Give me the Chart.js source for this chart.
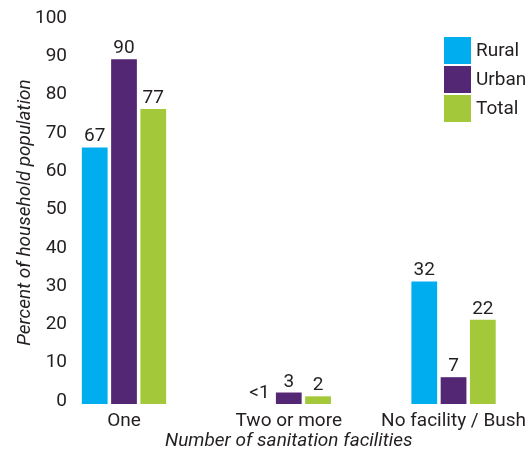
<!DOCTYPE html>
<html>
<head>
<meta charset="utf-8">
<script src="https://cdn.jsdelivr.net/npm/chart.js@4"></script>
<style>
  body { margin: 0; background: #fff; }
  #wrap { width: 532px; height: 453px; }
</style>
</head>
<body>
<div id="wrap"><canvas id="grafica"></canvas></div>
<script>
const categories = ["One", "Two or more", "No facility / Bush"];
const seriesNames = ["Rural", "Urban", "Total"];
const rural = [67, 0, 32];
const urban = [90, 3, 7];
const total = [77, 2, 22];
// texts written above the bars
const ruralLabels = ["67", "<1", "32"];
const urbanLabels = ["90", "3", "7"];
const totalLabels = ["77", "2", "22"];

const colors = ["#00aeef", "#532773", "#a3c83a"];
const textColor = "#231f20";
const fontFamily = "Roboto, sans-serif";
const fontSize = 19;

Chart.defaults.font.family = fontFamily;
Chart.defaults.color = textColor;

const valueLabels = [ruralLabels, urbanLabels, totalLabels];

// numbers on top of each bar
const barValues = {
  id: "barValues",
  afterDatasetsDraw(chart) {
    const ctx = chart.ctx;
    ctx.save();
    ctx.font = fontSize + "px " + fontFamily;
    ctx.fillStyle = textColor;
    ctx.textAlign = "center";
    ctx.textBaseline = "alphabetic";
    chart.data.datasets.forEach((ds, i) => {
      chart.getDatasetMeta(i).data.forEach((bar, j) => {
        ctx.fillText(valueLabels[i][j], bar.x, bar.y - 6);
      });
    });
    ctx.restore();
  },
};

// legend in the top right corner, boxes stacked
const boxLegend = {
  id: "boxLegend",
  afterDraw(chart) {
    const ctx = chart.ctx;
    ctx.save();
    ctx.font = fontSize + "px " + fontFamily;
    ctx.textBaseline = "middle";
    ctx.textAlign = "left";
    chart.data.datasets.forEach((ds, i) => {
      const top = 37 + i * 29;
      ctx.fillStyle = ds.backgroundColor;
      ctx.fillRect(444, top, 27, 27);
      ctx.fillStyle = textColor;
      ctx.fillText(ds.label, 476, top + 14);
    });
    ctx.restore();
  },
};

const data = {
  labels: categories,
  datasets: [
    { label: seriesNames[0], data: rural, backgroundColor: colors[0] },
    { label: seriesNames[1], data: urban, backgroundColor: colors[1] },
    { label: seriesNames[2], data: total, backgroundColor: colors[2] },
  ],
};

const config = {
  type: "bar",
  data,
  options: {
    responsive: true,
    maintainAspectRatio: false,
    animation: false,
    categoryPercentage: 0.533,
    barPercentage: 0.88,
    datasets: { bar: { clip: false } },
    layout: { padding: { top: 21, right: 76, left: 0, bottom: 0 } },
    plugins: {
      legend: { display: false },
      tooltip: { enabled: false },
    },
    scales: {
      x: {
        offset: false,
        grid: { display: false, drawTicks: false },
        border: { display: false },
        ticks: { font: { size: fontSize, lineHeight: 1.2 }, padding: 6, maxRotation: 0, autoSkip: false },
        title: {
          display: true,
          text: "Number of sanitation facilities",
          font: { size: fontSize, style: "italic", lineHeight: 1.2 },
          padding: { top: 0, bottom: 0 },
        },
        afterFit(scale) {
          scale.height = 49;
        },
      },
      y: {
        min: 0,
        max: 100,
        grid: { display: false, drawTicks: false },
        border: { display: false },
        ticks: { stepSize: 10, font: { size: fontSize }, padding: 57, labelOffset: -3 },
        title: {
          display: true,
          text: "Percent of household population",
          font: { size: fontSize, style: "italic", lineHeight: 1.2 },
          padding: { top: 14, bottom: 0 },
        },
        afterFit(scale) {
          // wide axis box so the first group sits where it does in the picture
          scale.width = 124;
          scale.paddingTop = 0;
          scale.paddingBottom = 0;
        },
      },
    },
  },
  plugins: [barValues, boxLegend],
};

new Chart(document.getElementById("grafica"), config);
</script>
</body>
</html>
